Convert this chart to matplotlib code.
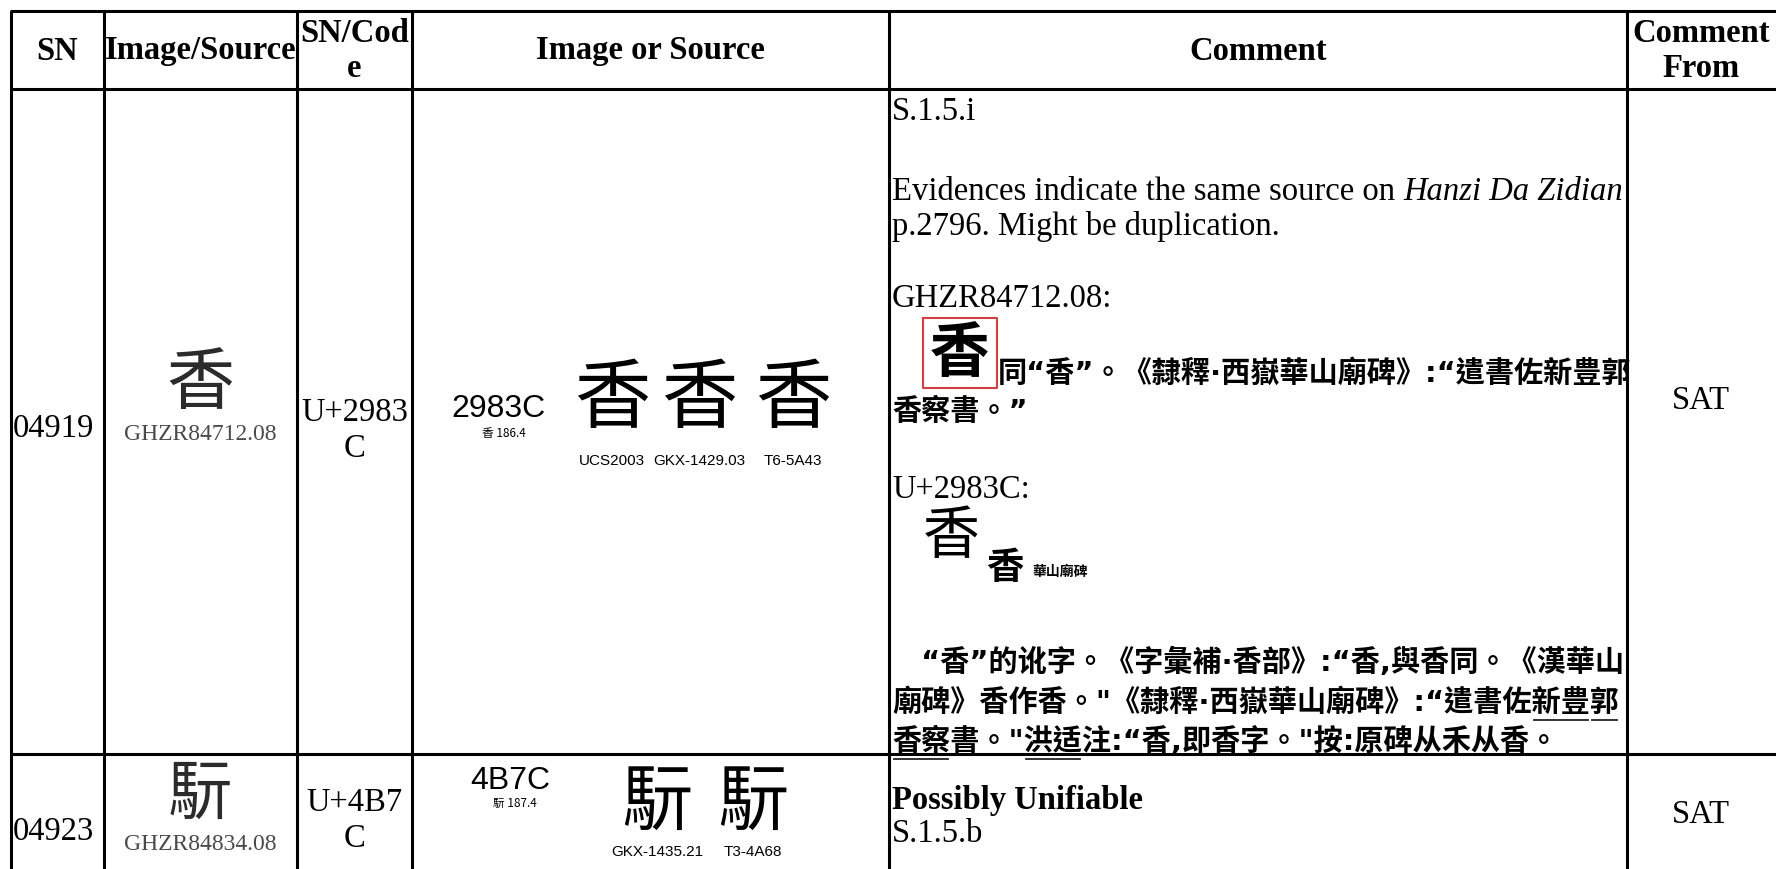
#!/usr/bin/env python
# -*-coding:utf-8-*-

"""
IRG review table, two rows, drawn with matplotlib text and lines
"""

import matplotlib
matplotlib.use("Agg")
import matplotlib.pyplot as plt

W, H = 1776, 869

# table data
headers = ["SN", "Image/Source", "SN/Cod\ne", "Image or Source", "Comment", "Comment\nFrom"]
sn_list = ["04919", "04923"]
source_chars = ["香", "䭼"]
source_ids = ["GHZR84712.08", "GHZR84834.08"]
code_lines = [["U+2983", "C"], ["U+4B7", "C"]]
ucs_codes = ["2983C", "4B7C"]
radical_refs = ["香 186.4", "䭼 187.4"]
glyph_sources = [["UCS2003", "GKX-1429.03", "T6-5A43"], ["GKX-1435.21", "T3-4A68"]]
comment_from = ["SAT", "SAT"]

comment1_lines = ["S.1.5.i"]
evid_pre = "Evidences indicate the same source on "
evid_italic = "Hanzi Da Zidian"
evid_line2 = "p.2796. Might be duplication."
ghzr_label = "GHZR84712.08:"
ghzr_line1 = "同“香”。《隸釋·西嶽華山廟碑》:“遣書佐新豊郭"
ghzr_line2 = "香察書。”"
ucs_label = "U+2983C:"
dict_lines = ["　“香”的讹字。《字彙補·香部》:“香,與香同。《漢華山",
              "廟碑》香作香。\"《隸釋·西嶽華山廟碑》:“遣書佐新豊郭",
              "香察書。\"洪适注:“香,即香字。\"按:原碑从禾从香。"]
# (line, start, end) character spans that are underlined
underlines = [(1, 24, 26), (1, 26, 27), (2, 0, 2), (2, 5, 7)]
comment2_bold = "Possibly Unifiable"
comment2_rule = "S.1.5.b"

# layout (pixels)
col_x = [11, 104, 297, 412, 889, 1627]
row_y = [11, 89, 754]
row_mid = [421, 812]

SERIF = ["Liberation Serif", "DejaVu Serif"]
SANS_N = ["Liberation Sans Narrow", "Liberation Sans", "DejaVu Sans"]
CJK = ["Noto Sans CJK TC", "DejaVu Sans"]
CJK_P = ["DejaVu Sans", "Noto Sans CJK TC"]   # narrow western punctuation
FS = 23.5
FS_CJK = 21

fig = plt.figure(figsize=(W / 100, H / 100), dpi=100)
ax = fig.add_axes([0, 0, 1, 1])
ax.set_xlim(0, W)
ax.set_ylim(H, 0)
ax.axis("off")
renderer = fig.canvas.get_renderer()


def put(x, y, s, **kw):
    kw.setdefault("family", SERIF)
    kw.setdefault("fontsize", FS)
    kw.setdefault("va", "center")
    kw.setdefault("ha", "left")
    kw.setdefault("color", "black")
    return ax.text(x, y, s, **kw)


def right_edge(t):
    bb = t.get_window_extent(renderer)
    return ax.transData.inverted().transform((bb.x1, bb.y0))[0]


def text_width(s, **kw):
    t = put(0, 0, s, **kw)
    bb = t.get_window_extent(renderer)
    t.remove()
    return bb.width


# grid lines
lw = 2.2
for x in col_x:
    ax.plot([x, x], [row_y[0], H + 5], color="black", lw=lw, solid_capstyle="butt")
for y in row_y:
    ax.plot([col_x[0] - 1, W + 5], [y, y], color="black", lw=lw, solid_capstyle="butt")

# header
hy = 51
for i, h in enumerate(headers):
    if i < len(col_x) - 1:
        cx = (col_x[i] + col_x[i + 1]) / 2
    else:
        cx = 1701
    put(cx, hy, h, ha="center", fontweight="bold", linespacing=1.2)

# SN, source image, code, comment from
for r in range(2):
    ym = row_mid[r]
    put(col_x[0] + 2, ym + (8 if r == 0 else 20), sn_list[r])
    cx = (col_x[1] + col_x[2]) / 2
    put(cx, ym - 36 if r == 0 else ym - 16, source_chars[r], family=CJK,
        fontsize=49 if r == 0 else 47, fontweight=300, ha="center", color="#2b2b2b")
    put(cx, ym + 14 if r == 0 else ym + 32, source_ids[r], fontsize=17, ha="center",
        color="#4a4a4a")
    cx = (col_x[2] + col_x[3]) / 2
    y0 = ym - 8 if r == 0 else ym - 9
    put(cx, y0, code_lines[r][0], ha="center")
    put(cx, y0 + 36, code_lines[r][1], ha="center")
    put(1701, ym - 20 if r == 0 else ym + 3, comment_from[r], ha="center")

# image or source column
put(498, 409, ucs_codes[0], family=SANS_N, fontsize=23, ha="center")
put(504, 433, radical_refs[0], family=CJK, fontsize=8.5, ha="center")
for gx, lab in zip([612, 699, 793], glyph_sources[0]):
    put(gx, 400, source_chars[0], family=CJK, fontsize=55, fontweight=300, ha="center")
    put(gx, 461, lab, family=SANS_N, fontsize=11, ha="center")

put(510, 781, ucs_codes[1], family=SANS_N, fontsize=23, ha="center")
put(515, 803, radical_refs[1], family=CJK, fontsize=8.5, ha="center")
for gx, lab in zip([657, 753], glyph_sources[1]):
    put(gx, 803, source_chars[1], family=CJK, fontsize=52, fontweight=300, ha="center")
    put(gx, 852, lab, family=SANS_N, fontsize=11, ha="center")

# comment column, row 1
cx0 = col_x[4] + 3
put(cx0, 112, comment1_lines[0])
t = put(cx0, 192, evid_pre)
put(right_edge(t), 192, evid_italic, style="italic")
put(cx0, 226, evid_line2)
put(cx0, 299, ghzr_label)

# red boxed glyph
box_x0, box_x1, box_y0, box_y1 = 923, 997, 318, 388
ax.plot([box_x0, box_x1, box_x1, box_x0, box_x0], [box_y0, box_y0, box_y1, box_y1, box_y0],
        color="#d04040", lw=1.5)
put((box_x0 + box_x1) / 2, (box_y0 + box_y1) / 2 + 2, source_chars[0], family=CJK,
    fontsize=43, fontweight="bold", ha="center")
put(box_x1 + 1, 373, ghzr_line1, family=CJK_P, fontsize=FS_CJK, fontweight="bold")
put(cx0, 412, ghzr_line2, family=CJK_P, fontsize=FS_CJK, fontweight="bold")

put(cx0, 490, ucs_label)
put(951, 537, source_chars[0], family=CJK, fontsize=41, ha="center")
put(1005, 568, source_chars[0], family=CJK, fontsize=27, fontweight="bold", ha="center")
put(1032, 572, "華山廟碑", family=CJK, fontsize=10, fontweight="bold")

dict_y = [662, 702, 741]
for s, y in zip(dict_lines, dict_y):
    put(cx0, y, s, family=CJK_P, fontsize=FS_CJK, fontweight="bold")
for li, a, b in underlines:
    s = dict_lines[li]
    kw = dict(family=CJK_P, fontsize=FS_CJK, fontweight="bold")
    x_a = cx0 + text_width(s[:a], **kw) if a else cx0
    x_b = cx0 + text_width(s[:b], **kw)
    ax.plot([x_a + 2, x_b - 2], [dict_y[li] + 18, dict_y[li] + 18], color="#222222", lw=1.3)

# comment column, row 2
put(cx0, 800, comment2_bold, fontweight="bold")
put(cx0, 834, comment2_rule)

fig.savefig("out.png", dpi=100, facecolor="white")
